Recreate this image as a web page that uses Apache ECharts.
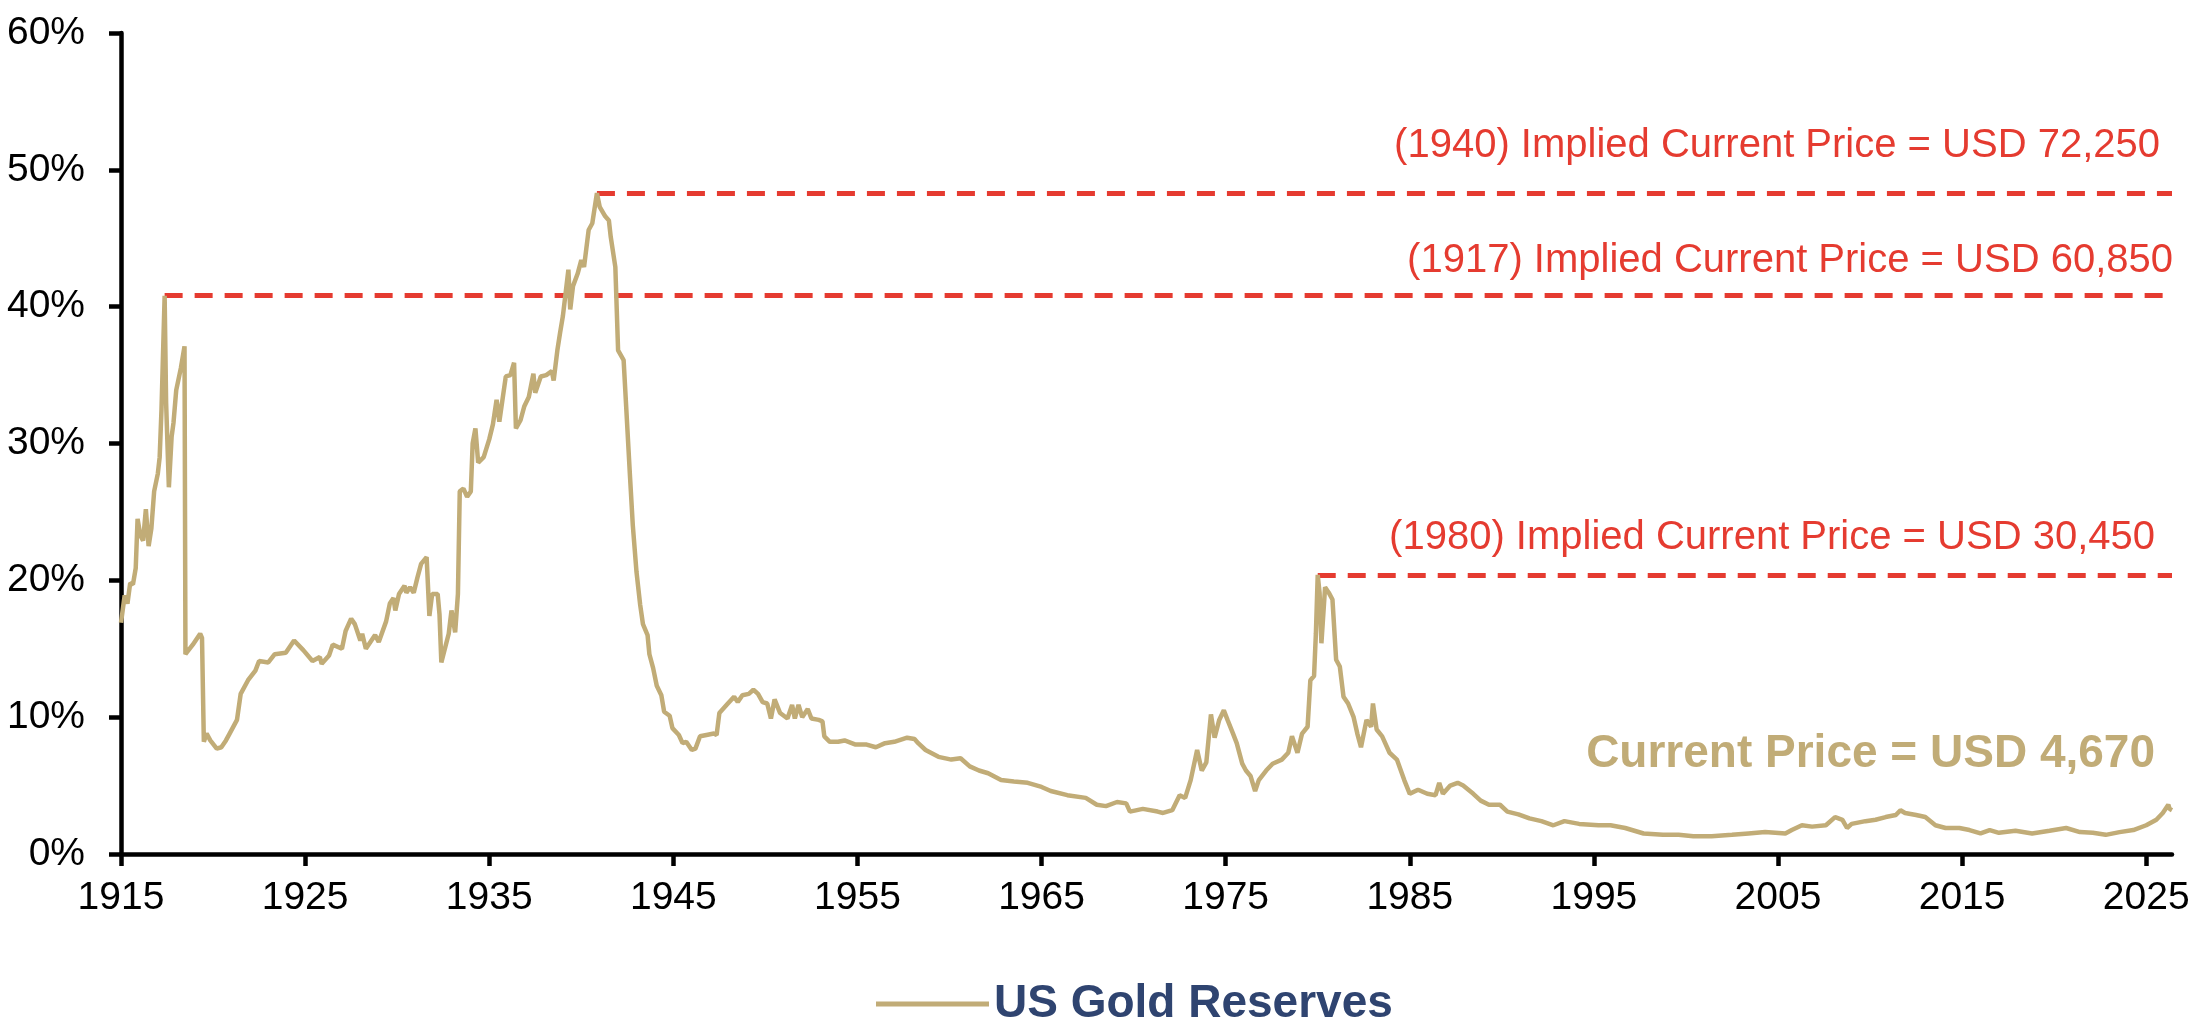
<!DOCTYPE html>
<html>
<head>
<meta charset="utf-8">
<title>US Gold Reserves</title>
<script src="https://cdn.jsdelivr.net/npm/echarts@6/dist/echarts.min.js"></script>
<style>
	html, body { margin: 0; padding: 0; background: #fff; }
	#chart { width: 2200px; height: 1032px; }
</style>
</head>
<body>
<div id="chart"></div>
<script>
// gold reserves as %, [year, pct]
var gold1915 = [
	[1915.0,16.9],[1915.2,18.9],[1915.35,18.3],[1915.5,19.8],[1915.65,19.7],[1915.8,20.9],[1915.9,24.5],
	[1916.05,23.3],[1916.2,22.9],[1916.35,25.2],[1916.5,22.5],[1916.65,23.8],[1916.8,26.5],[1917.0,27.8],
	[1917.1,29.0],[1917.2,32.5],[1917.37,40.8],[1917.45,33.0],[1917.6,26.8],[1917.75,30.5],[1917.85,31.5],
	[1918.0,33.9],[1918.25,35.5],[1918.45,37.1],[1918.5,14.6],[1918.9,15.3],[1919.3,16.1],[1919.4,15.8],
	[1919.5,8.2],[1919.65,8.8],[1919.85,8.3],[1920.2,7.7],[1920.45,7.8],[1920.7,8.3],[1920.9,8.8],
	[1921.3,9.8],[1921.5,11.7],[1921.9,12.7],[1922.3,13.4],[1922.5,14.1],[1923.0,14.0],[1923.35,14.6],
	[1923.95,14.7],[1924.4,15.6],[1924.9,14.9],[1925.4,14.1],[1925.8,14.4],[1925.9,13.9],[1926.3,14.5],
	[1926.5,15.3],[1927.0,15.0],[1927.2,16.3],[1927.5,17.2],[1927.7,16.8],[1928.0,15.6],[1928.1,16.1],
	[1928.3,15.0],[1928.8,16.0],[1929.0,15.5],[1929.4,17.0],[1929.6,18.3],[1929.8,18.7],[1929.9,17.8],
	[1930.1,19.0],[1930.4,19.6],[1930.5,19.1],[1930.7,19.5],[1930.9,19.1],[1931.1,20.2],[1931.3,21.2],
	[1931.6,21.7],[1931.75,17.4],[1931.9,19.0],[1932.2,19.0],[1932.3,17.5],[1932.4,14.0],[1932.8,16.1],
	[1932.95,17.8],[1933.15,16.2],[1933.3,19.0],[1933.4,26.5]
];
var gold1933 = [
	[1933.6,26.7],[1933.8,26.1],[1934.0,26.5],[1934.1,30.0],[1934.25,31.1],[1934.4,28.6],[1934.7,29.0],
	[1935.0,30.3],[1935.2,31.4],[1935.4,33.2],[1935.55,31.6],[1935.9,34.9],[1936.15,35.0],[1936.35,35.9],
	[1936.45,31.1],[1936.7,31.7],[1936.9,32.7],[1937.15,33.4],[1937.4,35.1],[1937.5,33.7],[1937.8,34.9],
	[1938.1,35.0],[1938.4,35.3],[1938.5,34.6],[1938.7,36.8],[1938.85,38.1],[1939.0,39.3],[1939.3,42.7],
	[1939.4,39.8],[1939.55,41.5],[1939.8,42.4],[1940.0,43.4],[1940.15,42.9],[1940.4,45.6],[1940.6,46.1],
	[1940.85,48.3],[1941.0,47.3],[1941.3,46.6],[1941.5,46.3],[1941.6,45.1],[1941.85,42.9],[1942.0,36.8],
	[1942.3,36.1],[1942.65,27.5],[1942.8,24.0],[1943.0,20.6],[1943.2,18.2],[1943.35,16.8],[1943.6,16.0],
	[1943.7,14.6],[1943.9,13.6],[1944.1,12.3],[1944.35,11.6],[1944.5,10.4],[1944.8,10.1],[1944.95,9.2],
	[1945.3,8.7],[1945.5,8.1],[1945.7,8.2],[1946.0,7.6],[1946.2,7.7],[1946.45,8.6],[1946.8,8.7],
	[1947.2,8.8],[1947.35,8.7],[1947.5,10.3],[1947.9,10.9],[1948.3,11.5],[1948.5,11.1],[1948.75,11.6],
	[1949.1,11.7],[1949.35,12.0],[1949.6,11.7],[1949.85,11.1],[1950.1,11.0],[1950.3,9.9],[1950.5,11.3],
	[1950.8,10.3],[1951.2,9.9],[1951.45,10.9],[1951.6,9.9],[1951.8,10.9],[1952.0,10.0],[1952.3,10.6],
	[1952.5,9.9],[1952.9,9.8],[1953.1,9.7],[1953.2,8.6],[1953.5,8.2],[1953.95,8.2],[1954.3,8.3],
	[1954.9,8.0],[1955.5,8.0],[1956.0,7.8],[1956.5,8.1],[1957.0,8.2],[1957.7,8.5],[1958.1,8.4],
	[1958.3,8.1],[1958.7,7.6],[1959.4,7.1],[1960.1,6.9],[1960.6,7.0],[1961.1,6.4],[1961.6,6.1],
	[1962.1,5.9],[1962.8,5.4],[1963.5,5.3],[1964.25,5.2],[1965.0,4.9],[1965.5,4.6],[1966.4,4.3],
	[1967.4,4.1],[1968.0,3.6],[1968.5,3.5],[1969.1,3.8],[1969.6,3.7],[1969.8,3.1],[1970.5,3.3],
	[1971.3,3.1],[1971.6,3.0],[1972.1,3.2]
];
var gold1972 = [
	[1972.5,4.3],[1972.8,4.1],[1973.1,5.4],[1973.45,7.6],[1973.7,6.1],[1973.95,6.7],[1974.2,10.2],
	[1974.4,8.5],[1974.65,9.8],[1974.9,10.5],[1975.1,9.8],[1975.4,8.8],[1975.6,8.1],[1975.9,6.6],
	[1976.1,6.1],[1976.35,5.7],[1976.6,4.6],[1976.8,5.4],[1977.2,6.1],[1977.55,6.6],[1978.05,6.9],
	[1978.4,7.4],[1978.6,8.6],[1978.9,7.4],[1979.15,8.8],[1979.45,9.3],[1979.6,12.7],[1979.8,13.0],
	[1979.9,16.1],[1980.0,20.4],[1980.1,19.1],[1980.2,15.4],[1980.4,19.5],[1980.6,19.1],[1980.8,18.6],
	[1981.0,14.2],[1981.2,13.7],[1981.4,11.5],[1981.65,11.0],[1981.95,10.0],[1982.15,8.8],[1982.35,7.8],
	[1982.65,9.8],[1982.9,9.3],[1983.0,11.0],[1983.2,9.1],[1983.5,8.6],[1983.9,7.4],[1984.3,6.9],
	[1984.7,5.4],[1985.0,4.4],[1985.45,4.7],[1985.95,4.4],[1986.4,4.3],[1986.6,5.2],[1986.8,4.4],
	[1987.2,5.0],[1987.6,5.2],[1987.9,5.0],[1988.45,4.4],[1988.85,3.9],[1989.3,3.6],[1989.9,3.6],
	[1990.3,3.1],[1990.9,2.9],[1991.5,2.6],[1992.15,2.4],[1992.8,2.1],[1993.4,2.4],[1994.2,2.2],
	[1995.25,2.1],[1995.9,2.1],[1996.7,1.9],[1997.7,1.5],[1998.75,1.4],[1999.6,1.4],[2000.4,1.3],
	[2001.4,1.3]
];
var gold2002 = [
	[2002.5,1.4],[2003.4,1.5],[2004.3,1.6],[2005.4,1.5],[2005.75,1.75],[2006.3,2.1],[2006.85,2.0],
	[2007.6,2.1],[2008.1,2.7],[2008.5,2.5],[2008.75,1.9],[2009.0,2.2],[2009.75,2.4],[2010.3,2.5],
	[2010.85,2.7],[2011.4,2.85],[2011.65,3.2],[2011.9,3.0],[2012.5,2.85],[2013.0,2.7],[2013.55,2.1],
	[2014.1,1.9],[2014.85,1.9],[2015.4,1.75],[2016.0,1.5],[2016.5,1.75],[2017.0,1.55],[2017.9,1.7],
	[2018.8,1.5],[2019.75,1.7],[2020.65,1.9],[2021.4,1.6],[2022.1,1.55],[2022.8,1.4],[2023.55,1.6],
	[2024.3,1.75],[2025.0,2.1],[2025.55,2.5],[2025.9,3.0],[2026.2,3.6],[2026.27,3.3],[2026.4,3.2]
];

// peaks: [year, pct, label]
var peakYears = [1940.85, 1917.37, 1980.0];
var peakVals = [48.3, 40.8, 20.4];
var peakLabels = [
	'(1940) Implied Current Price = USD 72,250',
	'(1917) Implied Current Price = USD 60,850',
	'(1980) Implied Current Price = USD 30,450'
];
var currentLabel = 'Current Price = USD 4,670';
var xTicks = [1915, 1925, 1935, 1945, 1955, 1965, 1975, 1985, 1995, 2005, 2015, 2025];
var xMax = 2026.4;

var seriesData = gold1915.concat(gold1933, gold1972, gold2002);

var GOLD = '#C1AC77';
var RED = '#E53B30';
var FONT = '"Liberation Sans", Arial, sans-serif';

var chart = echarts.init(document.getElementById('chart'));

var peakLines = [];
for (var i = 0; i < peakYears.length; i++) {
	peakLines.push([{ coord: [peakYears[i], peakVals[i]] }, { coord: [xMax, peakVals[i]] }]);
}

var option = {
	animation: false,
	backgroundColor: '#ffffff',
	grid: { left: 121, right: 28, top: 33, bottom: 178 },
	xAxis: {
		type: 'value',
		min: 1915,
		max: xMax,
		interval: 10,
		splitLine: { show: false },
		axisLine: { onZero: false, lineStyle: { color: '#000', width: 4.5 } },
		axisTick: { show: true, length: 12, lineStyle: { color: '#000', width: 4.5 }, customValues: xTicks },
		axisLabel: {
			customValues: xTicks,
			margin: 25,
			color: '#000',
			fontSize: 39,
			fontFamily: FONT,
			formatter: function(v) { return String(v); }
		}
	},
	yAxis: {
		type: 'value',
		min: 0,
		max: 60,
		interval: 10,
		splitLine: { show: false },
		axisLine: { show: true, lineStyle: { color: '#000', width: 4.5 } },
		axisTick: { show: true, length: 12, lineStyle: { color: '#000', width: 4.5 } },
		axisLabel: {
			margin: 36,
			color: '#000',
			fontSize: 39,
			fontFamily: FONT,
			formatter: '{value}%'
		}
	},
	legend: {
		left: 871,
		top: 976,
		icon: 'rect',
		itemWidth: 113,
		itemHeight: 5,
		itemGap: 12,
		textStyle: { color: '#2F4470', fontSize: 46, fontWeight: 'bold', fontFamily: FONT },
		data: ['US Gold Reserves']
	},
	series: [{
		name: 'US Gold Reserves',
		type: 'line',
		data: seriesData,
		showSymbol: false,
		symbol: 'none',
		lineStyle: { color: GOLD, width: 4.5 },
		itemStyle: { color: GOLD },
		z: 3,
		markLine: {
			silent: true,
			symbol: 'none',
			label: { show: false },
			lineStyle: { color: RED, width: 5, type: [18, 12] },
			data: peakLines,
			z: 2
		}
	}],
	graphic: [
		{ type: 'text', right: 40, top: 126, style: { text: peakLabels[0], fill: RED, font: '40px ' + FONT } },
		{ type: 'text', right: 27, top: 241, style: { text: peakLabels[1], fill: RED, font: '40px ' + FONT } },
		{ type: 'text', right: 45, top: 518, style: { text: peakLabels[2], fill: RED, font: '40px ' + FONT } },
		{ type: 'text', right: 45, top: 731, style: { text: currentLabel, fill: GOLD, font: 'bold 46px ' + FONT } }
	]
};

chart.setOption(option);
</script>
</body>
</html>
